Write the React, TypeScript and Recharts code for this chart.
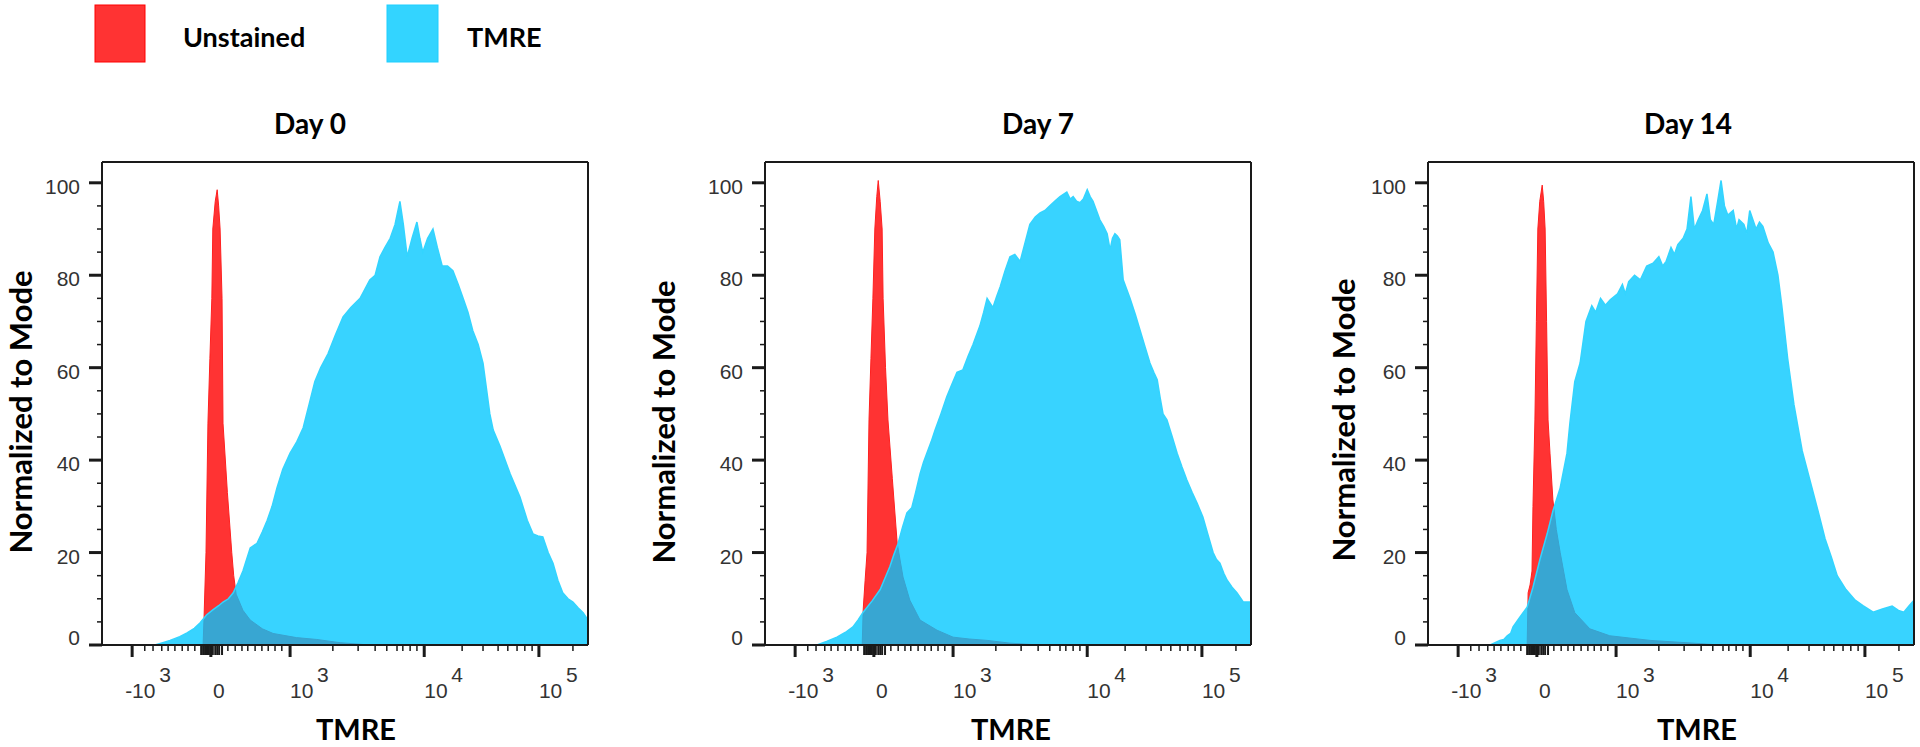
import React from 'react';
import { ComposedChart, Area, XAxis, YAxis, ReferenceLine } from 'recharts';

type Pt = [number, number];

// x = logicle display channel (0..1000), y = % of mode
const DAY0_UNSTAINED: Pt[] = [[208,0],[210,6],[214,20],[218,48],[222,62],[226,75],[228,90],[233,96],[237,98.5],[240,95],[243,90],[247,75],[249,48],[258,33],[267,20],[271,15],[276,11],[290,7.5],[305,5.4],[330,3.5],[352,2.5],[400,1.6],[442,1.2],[490,0.5],[551,0]];
const DAY0_TMRE: Pt[] = [[109,0],[125,0.5],[140,1],[160,1.8],[175,2.6],[190,3.6],[202,4.8],[215,6.5],[228,7.6],[240,8.5],[249,9.3],[260,10],[270,11.3],[280,13.5],[290,16],[305,21],[312,21.5],[319,22],[330,24.5],[340,27],[350,30],[360,34],[372,38],[387,41.5],[401,44],[414,47],[426,52],[438,57],[450,60],[465,63],[480,67],[496,71],[512,73],[531,75],[551,79],[562,80],[572,84],[582,86],[593,88],[603,91],[613,96],[620,91],[628,84],[638,88],[648,91.5],[654,88],[660,85],[670,88],[681,90],[690,86],[700,82],[711,82],[722,81],[733,78],[743,75],[753,72],[763,68],[774,65],[784,61],[798,50],[805,46.5],[819,43],[840,37],[860,32],[875,27],[887,24],[897,23.6],[907,23.4],[918,20],[928,17.7],[938,14],[948,11.3],[959,10],[969,9.3],[980,8],[990,7],[1000,5.4]];

const DAY7_UNSTAINED: Pt[] = [[200,0],[202,7.6],[206,14],[210,20],[214,48.7],[218,62],[222,75],[226,90],[230,97],[233,100.5],[237,96],[241,90],[243,75],[248,60],[253,48.7],[262,36],[272,22],[284,14.7],[298,9.7],[319,5.4],[354,3.2],[387,1.7],[420,1.3],[457,1],[504,0.4],[566,0]];
const DAY7_TMRE: Pt[] = [[107,0],[128,0.8],[148,1.7],[165,2.7],[181,3.9],[192,5.5],[202,7.1],[220,9.5],[237,12],[247,14.5],[257,17],[265,19.5],[274,22],[283,25.5],[292,28.6],[302,29.7],[310,33],[319,37],[326,39.5],[333,41.5],[342,44],[350,46.5],[362,50],[374,53.7],[385,56.5],[395,59],[407,59.5],[418,62.5],[428,65],[442,69],[450,72],[457,75],[469,73],[477,75.5],[484,77.5],[494,81],[504,84],[514,84.5],[525,83],[535,87],[545,91],[556,92.6],[566,93.5],[576,94],[586,95],[596,96],[607,97],[621,98],[628,96.5],[634,97],[641,96],[648,95.7],[655,96.5],[663,98.5],[669,97],[675,96],[682,94],[689,92],[697,90.5],[704,89],[710,85.5],[715,88],[720,89],[725,88.5],[730,87.7],[737,79],[744,77],[751,75],[762,71.5],[772,68],[782,64.5],[792,61],[800,59],[807,57.4],[813,53.5],[819,50],[827,48.7],[838,45],[848,41.5],[858,38.5],[868,35.7],[879,33],[889,30.7],[901,27.7],[911,24],[922,20],[929,18.5],[936,17.7],[944,15.5],[951,14],[961,12.5],[971,11.3],[984,9.3],[1000,9.3]];

const DAY14_UNSTAINED: Pt[] = [[204,0],[206,11.3],[210,13],[214,16],[216,30],[220,48.7],[223,70],[226,90],[230,96],[235,99.5],[238,96],[241,90],[244,70],[247,48.7],[251,41.5],[257,31.4],[264,25],[272,20],[286,12],[302,7],[333,3.5],[374,2],[457,1],[560,0.3],[601,0]];
const DAY14_TMRE: Pt[] = [[128,0],[138,0.5],[148,1],[156,1.2],[163,2],[170,2.5],[175,3.9],[189,6],[204,8.2],[216,12.5],[230,18.4],[245,24],[257,29],[272,34],[286,41.5],[292,48],[302,57],[313,61],[325,70],[337,73.4],[345,72],[355,75],[365,73.5],[375,74.7],[390,76],[400,78],[406,76],[413,78.6],[425,80],[437,79],[450,82],[463,82.6],[475,84],[483,82],[490,83],[500,86],[507,84.5],[514,86.6],[525,88],[533,90],[541,97],[548,90],[556,92],[565,94],[574,97.6],[581,92],[588,91],[596,96],[603,100.5],[610,95],[617,93],[628,94],[635,90],[640,92],[650,91],[656,89],[662,94],[675,90],[682,91.5],[689,90.6],[700,87],[710,85],[720,80],[728,73.4],[740,62],[753,52],[770,42],[791,33.6],[805,28],[817,23],[830,19],[842,15],[860,12],[879,9.7],[895,8.5],[916,7.1],[935,7.8],[955,8.4],[968,7.5],[979,7.1],[990,8.5],[1000,9.7]];

const PANEL_TITLES = ['Day 0', 'Day 7', 'Day 14'];
const LEGEND_LABELS = ['Unstained', 'TMRE'];
const X_LABEL = 'TMRE';
const Y_LABEL = 'Normalized to Mode';

const X_MAJOR_TICKS = [
  { ch: 62, base: '-10', exp: '3' },
  { ch: 224, base: '0', exp: '' },
  { ch: 387, base: '10', exp: '3' },
  { ch: 663, base: '10', exp: '4' },
  { ch: 899, base: '10', exp: '5' },
];
const X_MINOR_TICKS = [88,105,123,136,150,165,177,191,259,274,288,300,315,329,342,356,370,475,527,562,586,607,619,634,648,741,784,815,835,854,870,885,969];
const X_CLUSTER_TICKS = [204,208,212,216,220,228,233,237,241,247];
const Y_TICKS = [0,5,10,15,20,25,30,35,40,45,50,55,60,65,70,75,80,85,90,95,100];
const X_DOMAIN: [number, number] = [0, 1000];
const Y_DOMAIN: [number, number] = [0, 104.5];

const RED = '#FF3333';
const BLUE = '#00C6FF';
const BLUE_EDGE = '#33D4FF';
const AXIS = '#1a1a1a';
const TICK_FONT = '"Liberation Sans", Arial, sans-serif';
const LABEL_FONT = 'Lato, "Open Sans", sans-serif';

const PLOT_TOP = 162;
const PLOT_BOTTOM = 645;
const PLOT_W = 486;
const YAXIS_W = 100;
const XAXIS_H = 60;
const PANEL_LEFTS = [102, 765, 1428];
const TITLE_X = [310, 1038, 1688];
const YLABEL_X = [32, 675, 1355];
const YLABEL_Y = [412, 422, 420];
const XLABEL_X = [356, 1011, 1697];

const majorMap = new Map(X_MAJOR_TICKS.map((t) => [t.ch, t]));
const clusterSet = new Set(X_CLUSTER_TICKS);
const ALL_X_TICKS = [...X_MAJOR_TICKS.map((t) => t.ch), ...X_MINOR_TICKS, ...X_CLUSTER_TICKS].sort((a, b) => a - b);

function merge(red: Pt[], blue: Pt[]) {
  const m = new Map<number, { ch: number; unstained: number | null; tmre: number | null }>();
  for (const [c, v] of red) {
    const o = m.get(c) ?? { ch: c, unstained: null, tmre: null };
    o.unstained = v;
    m.set(c, o);
  }
  for (const [c, v] of blue) {
    const o = m.get(c) ?? { ch: c, unstained: null, tmre: null };
    o.tmre = v;
    m.set(c, o);
  }
  return [...m.values()].sort((a, b) => a.ch - b.ch);
}

const PANEL_DATA = [
  merge(DAY0_UNSTAINED, DAY0_TMRE),
  merge(DAY7_UNSTAINED, DAY7_TMRE),
  merge(DAY14_UNSTAINED, DAY14_TMRE),
];

function XTick(props: any) {
  const { x, y, payload } = props;
  const v = payload.value;
  const major = majorMap.get(v);
  const cluster = clusterSet.has(v);
  const len = major ? 12 : cluster ? 10 : 6;
  const w = major ? 3 : cluster ? 2 : 1.5;
  return (
    <g>
      <line x1={x} x2={x} y1={y} y2={y + len} stroke={AXIS} strokeWidth={w} />
      {major && major.base === '0' && (
        <text x={x + 8} y={y + 53} textAnchor="middle" fontSize={21} fill="#333" fontFamily={TICK_FONT}>0</text>
      )}
      {major && major.base !== '0' && (
        <g>
          <text x={major.base.startsWith('-') ? x - 7 : x} y={y + 53} textAnchor="start" fontSize={21} fill="#333" fontFamily={TICK_FONT}>{major.base}</text>
          <text x={x + 27} y={y + 37} textAnchor="start" fontSize={21} fill="#333" fontFamily={TICK_FONT}>{major.exp}</text>
        </g>
      )}
    </g>
  );
}

function YTick(props: any) {
  const { x, y, payload } = props;
  const v = payload.value;
  const major = v % 20 === 0;
  return (
    <g>
      <line x1={x} x2={x - (major ? 13 : 5)} y1={y} y2={y} stroke={AXIS} strokeWidth={major ? 3 : 1.5} />
      {major && (
        <text x={x - 22} y={v === 0 ? y : y + 11} textAnchor="end" fontSize={21} fill="#333" fontFamily={TICK_FONT}>{v}</text>
      )}
    </g>
  );
}

function Panel({ idx }: { idx: number }) {
  const left = PANEL_LEFTS[idx] - YAXIS_W;
  const width = YAXIS_W + PLOT_W + 20;
  return (
    <div style={{ position: 'absolute', left, top: 0 }}>
      <ComposedChart
        width={width}
        height={747}
        data={PANEL_DATA[idx]}
        margin={{ top: PLOT_TOP, right: 20, bottom: 747 - PLOT_BOTTOM - XAXIS_H, left: 0 }}
      >
        <XAxis
          xAxisId="b"
          dataKey="ch"
          type="number"
          domain={X_DOMAIN}
          allowDataOverflow
          ticks={ALL_X_TICKS}
          interval={0}
          tick={(p: any) => <XTick {...p} />}
          tickLine={false}
          tickSize={0}
          tickMargin={0}
          height={XAXIS_H}
          axisLine={{ stroke: AXIS, strokeWidth: 2 }}
        />
        <YAxis
          yAxisId="l"
          type="number"
          domain={Y_DOMAIN}
          allowDataOverflow
          ticks={Y_TICKS}
          interval={0}
          tick={(p: any) => <YTick {...p} />}
          tickLine={false}
          tickSize={0}
          tickMargin={0}
          width={YAXIS_W}
          axisLine={{ stroke: AXIS, strokeWidth: 2 }}
        />
        <Area
          xAxisId="b"
          yAxisId="l"
          dataKey="unstained"
          type="linear"
          fill={RED}
          fillOpacity={1}
          stroke="#FF2020"
          strokeWidth={1}
          connectNulls
          dot={false}
          activeDot={false}
          isAnimationActive={false}
        />
        <Area
          xAxisId="b"
          yAxisId="l"
          dataKey="tmre"
          type="linear"
          fill={BLUE}
          fillOpacity={0.78}
          stroke={BLUE_EDGE}
          strokeWidth={1.5}
          connectNulls
          dot={false}
          activeDot={false}
          isAnimationActive={false}
        />
        <ReferenceLine xAxisId="b" yAxisId="l" y={Y_DOMAIN[1]} stroke={AXIS} strokeWidth={2} ifOverflow="extendDomain" />
        <ReferenceLine xAxisId="b" yAxisId="l" x={X_DOMAIN[1]} stroke={AXIS} strokeWidth={2} ifOverflow="extendDomain" />
      </ComposedChart>
    </div>
  );
}

export default function App() {
  return (
    <div style={{ position: 'absolute', left: 0, top: 0, width: 1920, height: 747, background: '#fff', overflow: 'hidden' }}>
      {PANEL_TITLES.map((_, i) => (
        <Panel key={i} idx={i} />
      ))}
      <svg width={1920} height={747} style={{ position: 'absolute', left: 0, top: 0, pointerEvents: 'none' }}>
        <rect x={95} y={5} width={50} height={57} fill={RED} stroke="#FF0000" strokeWidth={1} />
        <text x={183} y={47} fontSize={27} fontWeight={700} fontFamily={LABEL_FONT} fill="#000">{LEGEND_LABELS[0]}</text>
        <rect x={387} y={5} width={51} height={57} fill={BLUE_EDGE} stroke="#1ECFFF" strokeWidth={1} />
        <text x={467} y={47} fontSize={27} fontWeight={700} fontFamily={LABEL_FONT} fill="#000">{LEGEND_LABELS[1]}</text>
        {PANEL_TITLES.map((t, i) => (
          <text key={'t' + i} x={TITLE_X[i]} y={134} textAnchor="middle" fontSize={28} fontWeight={700} fontFamily={LABEL_FONT} fill="#000">{t}</text>
        ))}
        {PANEL_TITLES.map((_, i) => (
          <text
            key={'y' + i}
            x={YLABEL_X[i]}
            y={YLABEL_Y[i]}
            transform={`rotate(-90 ${YLABEL_X[i]} ${YLABEL_Y[i]})`}
            textAnchor="middle"
            fontSize={31}
            fontWeight={700}
            fontFamily={LABEL_FONT}
            fill="#000"
          >
            {Y_LABEL}
          </text>
        ))}
        {PANEL_TITLES.map((_, i) => (
          <text key={'x' + i} x={XLABEL_X[i]} y={740} textAnchor="middle" fontSize={29} fontWeight={700} fontFamily={LABEL_FONT} fill="#000">{X_LABEL}</text>
        ))}
      </svg>
    </div>
  );
}
